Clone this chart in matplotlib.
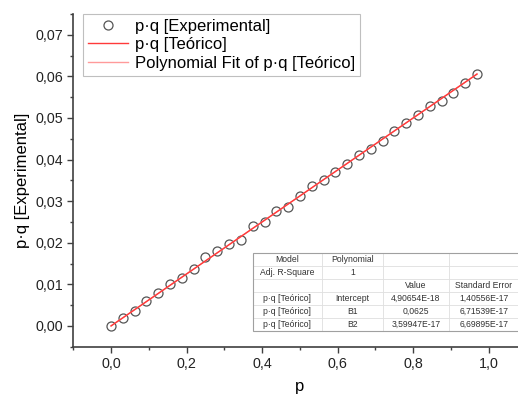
import matplotlib
matplotlib.use('Agg')
import matplotlib.pyplot as plt
import numpy as np
from matplotlib.ticker import MultipleLocator, FuncFormatter

plt.rcParams['font.family'] = ['Liberation Sans', 'DejaVu Sans']

# datos
p = [0.0, 0.03125, 0.0625, 0.09375, 0.125, 0.15625, 0.1875, 0.21875,
     0.25, 0.28125, 0.3125, 0.34375, 0.375, 0.40625, 0.4375, 0.46875,
     0.5, 0.53125, 0.5625, 0.59375, 0.625, 0.65625, 0.6875, 0.71875,
     0.75, 0.78125, 0.8125, 0.84375, 0.875, 0.90625, 0.9375, 0.96875]
pq_exp = [0.0000, 0.0019, 0.0036, 0.0060, 0.0078, 0.0100, 0.0116, 0.0137,
          0.0165, 0.0181, 0.0198, 0.0206, 0.0240, 0.0250, 0.0276, 0.0287,
          0.0312, 0.0337, 0.0350, 0.0371, 0.0390, 0.0411, 0.0426, 0.0444,
          0.0469, 0.0487, 0.0507, 0.0528, 0.0541, 0.0559, 0.0584, 0.0605]
pq_teo = [0.0, 0.00195, 0.00391, 0.00586, 0.00781, 0.00977, 0.01172, 0.01367,
          0.01563, 0.01758, 0.01953, 0.02148, 0.02344, 0.02539, 0.02734, 0.0293,
          0.03125, 0.0332, 0.03516, 0.03711, 0.03906, 0.04102, 0.04297, 0.04492,
          0.04688, 0.04883, 0.05078, 0.05273, 0.05469, 0.05664, 0.05859, 0.06055]
# coeficientes del ajuste (B2, B1, Intercept)
fit_coef = [3.59947e-17, 0.0625, 4.90654e-18]

table_rows = [
    ['Model', 'Polynomial', '', ''],
    ['Adj. R-Square', '1', '', ''],
    ['', '', 'Value', 'Standard Error'],
    ['p·q [Teórico]', 'Intercept', '4,90654E-18', '1,40556E-17'],
    ['p·q [Teórico]', 'B1', '0,0625', '6,71539E-17'],
    ['p·q [Teórico]', 'B2', '3,59947E-17', '6,69895E-17'],
]

fig = plt.figure(figsize=(5.18, 3.98), dpi=100)
ax = fig.add_axes([0.1415, 0.1289, 0.875, 0.836])

ax.plot(p, pq_exp, 'o', ms=6.5, mfc='none', mec='#555555', mew=0.9,
        label='p·q [Experimental]', zorder=2)
fit_line, = ax.plot(p, np.polyval(fit_coef, p), color='#ff9a9a', lw=1.0,
                    label='Polynomial Fit of p·q [Teórico]', zorder=3)
teo_line, = ax.plot(p, pq_teo, color='#ff3a3a', lw=1.0,
                    label='p·q [Teórico]', zorder=4)

ax.set_xlim(-0.1, 1.1)
ax.set_ylim(-0.005, 0.075)
ax.xaxis.set_major_locator(MultipleLocator(0.2))
ax.xaxis.set_minor_locator(MultipleLocator(0.1))
ax.yaxis.set_major_locator(MultipleLocator(0.01))
ax.yaxis.set_minor_locator(MultipleLocator(0.005))
ax.xaxis.set_major_formatter(FuncFormatter(lambda v, _: f'{v:.1f}'.replace('.', ',').replace('-0,0', '0,0')))
ax.yaxis.set_major_formatter(FuncFormatter(lambda v, _: f'{v:.2f}'.replace('.', ',').replace('-0,00', '0,00')))

for s in ['top', 'right']:
    ax.spines[s].set_visible(False)
for s in ['left', 'bottom']:
    ax.spines[s].set_color('#404040')
    ax.spines[s].set_linewidth(1.2)
ax.tick_params(which='major', direction='out', length=4.3, width=1, color='#404040',
               labelsize=10.3, labelcolor='#222222', pad=3)
ax.tick_params(which='minor', direction='out', length=2.3, width=1, color='#404040')

ax.set_xlabel('p', fontsize=12, labelpad=6)
ax.set_ylabel('p·q [Experimental]', fontsize=12, labelpad=4)

h, l = ax.get_legend_handles_labels()
order = [0, 2, 1]
leg = ax.legend([h[i] for i in order], [l[i] for i in order], loc='upper left',
                bbox_to_anchor=(0.021, 1.0), borderaxespad=0, fontsize=12,
                frameon=True, fancybox=False, handlelength=2.4, labelspacing=0.2,
                handletextpad=0.45, borderpad=0.3)
leg.get_frame().set_edgecolor('#b0b0b0')
leg.get_frame().set_linewidth(0.8)

tbl = ax.table(cellText=table_rows, cellLoc='center',
               colWidths=[69, 61, 66, 70],
               bbox=[0.396, 0.047, 0.587, 0.2346])
tbl.auto_set_font_size(False)
tbl.set_fontsize(6.2)
for (r, c), cell in tbl.get_celld().items():
    cell.set_edgecolor('#dddddd')
    cell.set_linewidth(0.5)
    cell.set_facecolor('white')
    cell.get_text().set_color('#333333')
tbl.set_zorder(5)

rect = plt.Rectangle((0.396, 0.047), 0.587, 0.2346, transform=ax.transAxes,
                     fill=False, edgecolor='#a0a0a0', lw=0.8, zorder=6)
ax.add_patch(rect)

fig.savefig('out.png', dpi=100)
